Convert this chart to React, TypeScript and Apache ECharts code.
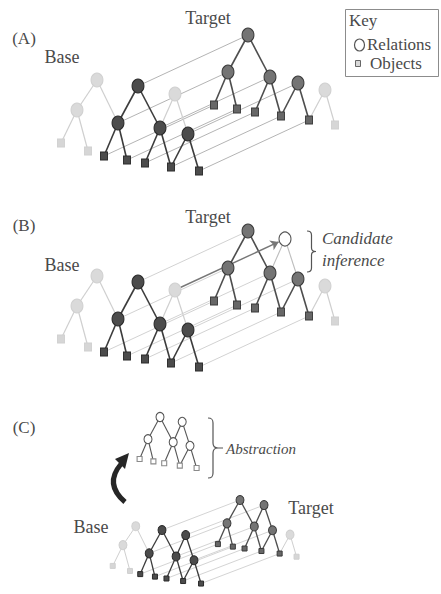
import React, { useEffect, useRef } from 'react';
import * as echarts from 'echarts';

const W = 441;
const H = 594;

// ---------- diagram data ----------
// shared (mapped) tree: relations and objects, offsets from the top relation
const treeIds = ['top', 'left', 'mid', 'right', 'top2', 'o1', 'o2', 'o3', 'o4', 'o5'];
const treeKinds = ['rel', 'rel', 'rel', 'rel', 'rel', 'obj', 'obj', 'obj', 'obj', 'obj'];
const treeDx = [0, -20, 22, 50, 37, -34, -11, 7, 33, 61];
const treeDy = [0, 37, 42, 48, 8, 70, 74, 77, 81, 85];
const treeEdges = [
  ['top', 'left'], ['top', 'mid'], ['left', 'o1'], ['left', 'o2'], ['mid', 'o3'],
  ['mid', 'o4'], ['right', 'o4'], ['right', 'o5'], ['top2', 'mid'], ['top2', 'right'],
];
// unmapped part of the base
const baseOnlyIds = ['b0', 'b1', 'b2', 'b3'];
const baseOnlyKinds = ['rel', 'rel', 'obj', 'obj'];
const baseOnlyDx = [-41, -61, -77, -50];
const baseOnlyDy = [-6, 24, 57, 65];
const baseOnlyEdges = [['b0', 'b1'], ['b0', 'left'], ['b1', 'b2'], ['b1', 'b3']];
// unmapped part of the target
const targetOnlyIds = ['t0', 't1'];
const targetOnlyKinds = ['rel', 'obj'];
const targetOnlyDx = [77, 87];
const targetOnlyDy = [55, 90];
const targetOnlyEdges = [['t0', 'o5'], ['t0', 't1']];
// state of the 'top2' relation in each panel
const panelNames = ['(A)', '(B)', '(C)'];
const top2BaseState = ['light', 'light', 'dark'];
const top2TargetState = ['absent', 'candidate', 'dark'];
// key entries
const keyTitle = 'Key';
const keyLabels = ['Relations', 'Objects'];
const sideNotes = ['Candidate', 'inference', 'Abstraction'];

// ---------- layout ----------
type Pl = { ox: number; oy: number; sx: number; sy: number };
const panelLayout = [
  { base: { ox: 138, oy: 86, sx: 1, sy: 1 }, target: { ox: 248, oy: 35, sx: 1, sy: 1 }, big: true, corr: '#b4b4b4' },
  { base: { ox: 138, oy: 282, sx: 1, sy: 1 }, target: { ox: 248, oy: 231, sx: 1, sy: 1 }, big: true, corr: '#d2d2d2' },
  { base: { ox: 162, oy: 530, sx: 0.64, sy: 0.63 }, target: { ox: 240, oy: 500, sx: 0.65, sy: 0.63 }, big: false, corr: '#d4d4d4' },
];
const abstractionPl: Pl = { ox: 160, oy: 417, sx: 0.6, sy: 0.6 };

const FONT = '"Liberation Serif", "DejaVu Serif", serif';
const TXT = '#4a4a4a';

echarts.graphic.registerShape(
  'braceB',
  echarts.graphic.extendPath(
    'M0,0 C3,0 4.5,1 4.5,4 L4.5,17 C4.5,19.5 6,20.5 9,20.5 C6,20.5 4.5,21.5 4.5,24 L4.5,37 C4.5,40 3,41 0,41',
    {}
  )
);
echarts.graphic.registerShape(
  'braceC',
  echarts.graphic.extendPath(
    'M0,0 C4,0 5,1.5 5,5 L5,25 C5,28.5 6.5,30 10,30 L15,30 M10,30 C6.5,30 5,31.5 5,35 L5,55 C5,58.5 4,60 0,60',
    {}
  )
);

function lookup(id: string) {
  let i = treeIds.indexOf(id);
  if (i >= 0) return { dx: treeDx[i], dy: treeDy[i], kind: treeKinds[i] };
  i = baseOnlyIds.indexOf(id);
  if (i >= 0) return { dx: baseOnlyDx[i], dy: baseOnlyDy[i], kind: baseOnlyKinds[i] };
  i = targetOnlyIds.indexOf(id);
  return { dx: targetOnlyDx[i], dy: targetOnlyDy[i], kind: targetOnlyKinds[i] };
}
function pos(p: Pl, id: string): number[] {
  const n = lookup(id);
  return [p.ox + n.dx * p.sx, p.oy + n.dy * p.sy];
}

type NodeState = 'dark' | 'light' | 'candidate' | 'absent' | 'white';

function buildOption() {
  const nodes: any[] = [];
  const edges: any[] = [];
  const corr: any[] = [];
  const arrows: any[] = [];

  const nodeStyle = (role: string, kind: string, state: NodeState, big: boolean) => {
    const size = kind === 'rel' ? (big ? [12, 14] : [8, 9]) : big ? [7, 8] : [5, 5];
    let color = '#4c4c4c';
    let border = '#2a2a2a';
    let bw = 1;
    if (state === 'light') { color = kind === 'rel' ? '#dadada' : '#d6d6d6'; border = '#d0d0d0'; }
    else if (state === 'candidate' || state === 'white') { color = '#ffffff'; border = kind === 'rel' ? '#555555' : '#8a8a8a'; bw = 1.1; }
    else if (role === 'target') { color = kind === 'rel' ? '#747474' : '#676767'; border = '#3a3a3a'; }
    return {
      symbol: kind === 'rel' ? 'circle' : 'rect',
      symbolSize: size,
      itemStyle: { color, borderColor: border, borderWidth: bw, opacity: 1 },
    };
  };

  const addTree = (pl: Pl, role: string, top2: NodeState, big: boolean, extraIds: string[], extraEdges: string[][]) => {
    const states: Record<string, NodeState> = {};
    treeIds.forEach((id) => (states[id] = role === 'abstraction' ? 'white' : 'dark'));
    states['top2'] = role === 'abstraction' ? 'white' : top2;
    extraIds.forEach((id) => (states[id] = 'light'));
    const allEdges = treeEdges.concat(extraEdges);
    allEdges.forEach(([a, b]) => {
      const sa = states[a];
      const sb = states[b];
      if (sa === 'absent' || sb === 'absent') return;
      let color = role === 'target' ? '#4e4e4e' : '#3c3c3c';
      let width = big ? 1.6 : 1.3;
      if (sa === 'light' || sb === 'light') { color = '#cfcfcf'; width = big ? 1.2 : 1; }
      else if (sa === 'candidate' || sb === 'candidate') { color = '#bdbdbd'; width = 1.1; }
      else if (role === 'abstraction') { color = '#555555'; width = 1.1; }
      edges.push({ coords: [pos(pl, a), pos(pl, b)], lineStyle: { color, width, opacity: 1 } });
    });
    const ids = extraIds.concat(treeIds);
    // light ones first so dark ones are on top
    const ordered = ids.filter((id) => states[id] === 'light').concat(ids.filter((id) => states[id] !== 'light'));
    ordered.forEach((id) => {
      const st = states[id];
      if (st === 'absent') return;
      nodes.push({ value: pos(pl, id), ...nodeStyle(role, lookup(id).kind, st, big) });
    });
    return states;
  };

  panelLayout.forEach((p, i) => {
    const bs = addTree(p.base, 'base', top2BaseState[i] as NodeState, p.big, baseOnlyIds, baseOnlyEdges);
    const ts = addTree(p.target, 'target', top2TargetState[i] as NodeState, p.big, targetOnlyIds, targetOnlyEdges);
    treeIds.forEach((id) => {
      if (bs[id] === 'dark' && ts[id] === 'dark') {
        corr.push({ coords: [pos(p.base, id), pos(p.target, id)], lineStyle: { color: p.corr, width: 1, opacity: 1 } });
      }
    });
    if (top2TargetState[i] === 'candidate') {
      const a = pos(p.base, 'top2');
      const b = pos(p.target, 'top2');
      const dx = b[0] - a[0];
      const dy = b[1] - a[1];
      const len = Math.sqrt(dx * dx + dy * dy);
      const end = [b[0] - (dx / len) * 7, b[1] - (dy / len) * 7];
      arrows.push({ coords: [a, end] });
    }
  });
  addTree(abstractionPl, 'abstraction', 'white', false, [], []);

  const t = (text: string, x: number, y: number, size: number, extra: any = {}) => ({
    type: 'text',
    x,
    y,
    silent: true,
    style: { text, fontFamily: FONT, fontSize: size, fill: TXT, align: 'center', verticalAlign: 'middle', ...extra },
  });

  const graphic: any[] = [
    t(panelNames[0], 24, 38, 17),
    t(panelNames[1], 24, 225, 17),
    t(panelNames[2], 24, 427, 17),
    t('Base', 62, 57, 18),
    t('Base', 62, 265, 18),
    t('Base', 91, 527, 18),
    t('Target', 208, 18, 18),
    t('Target', 208, 217, 18),
    t('Target', 311, 508, 18),
    // key
    { type: 'rect', silent: true, shape: { x: 345.5, y: 9.5, width: 93, height: 67 }, style: { fill: '#fff', stroke: '#8c8c8c', lineWidth: 1 } },
    t(keyTitle, 349, 20, 17, { align: 'left' }),
    { type: 'ellipse', silent: true, shape: { cx: 359.5, cy: 45, rx: 5, ry: 6 }, style: { fill: '#fff', stroke: '#555', lineWidth: 1.2 } },
    t(keyLabels[0], 367, 44, 17, { align: 'left' }),
    { type: 'rect', silent: true, shape: { x: 355.5, y: 60.5, width: 5, height: 6 }, style: { fill: '#d8d8d8', stroke: '#666', lineWidth: 1 } },
    t(keyLabels[1], 370, 63, 17, { align: 'left' }),
    // candidate inference note
    { type: 'braceB', silent: true, x: 307, y: 231, style: { fill: 'none', stroke: '#555', lineWidth: 1.2 } },
    t(sideNotes[0], 322, 238, 17, { align: 'left', fontStyle: 'italic' }),
    t(sideNotes[1], 322, 260, 17, { align: 'left', fontStyle: 'italic' }),
    // abstraction note
    { type: 'braceC', silent: true, x: 208, y: 418, style: { fill: 'none', stroke: '#555', lineWidth: 1.2 } },
    t(sideNotes[2], 226, 449, 15, { align: 'left', fontStyle: 'italic' }),
    // curved arrow
    { type: 'bezierCurve', silent: true, shape: { x1: 125, y1: 502, x2: 121, y2: 464, cpx1: 104, cpy1: 484 }, style: { fill: 'none', stroke: '#262626', lineWidth: 5 } },
    { type: 'polygon', silent: true, shape: { points: [[129, 453], [115, 459], [125, 469]] }, style: { fill: '#262626' } },
  ];

  return {
    animation: false,
    backgroundColor: '#ffffff',
    grid: { left: 0, right: 0, top: 0, bottom: 0 },
    xAxis: { type: 'value', min: 0, max: W, show: false },
    yAxis: { type: 'value', min: 0, max: H, inverse: true, show: false },
    series: [
      { type: 'lines', coordinateSystem: 'cartesian2d', z: 1, silent: true, lineStyle: { opacity: 1 }, data: corr },
      { type: 'lines', coordinateSystem: 'cartesian2d', z: 2, silent: true, lineStyle: { opacity: 1 }, data: edges },
      {
        type: 'lines', coordinateSystem: 'cartesian2d', z: 2, silent: true,
        symbol: ['none', 'arrow'], symbolSize: 8,
        lineStyle: { color: '#777777', width: 1.4, opacity: 1 },
        data: arrows,
      },
      { type: 'scatter', z: 3, silent: true, data: nodes },
    ],
    graphic,
  };
}

export default function App() {
  const ref = useRef<HTMLDivElement>(null);
  useEffect(() => {
    const chart = echarts.init(ref.current!, null, { renderer: 'svg' });
    chart.setOption(buildOption() as any);
    return () => chart.dispose();
  }, []);
  return (
    <div
      ref={ref}
      style={{ position: 'absolute', left: 0, top: 0, width: W, height: H, background: '#fff' }}
    />
  );
}
